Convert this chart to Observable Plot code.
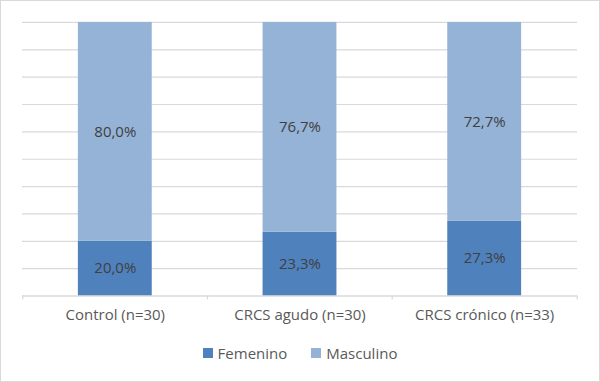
<!DOCTYPE html>
<html>
<head>
<meta charset="utf-8">
<script src="https://cdn.jsdelivr.net/npm/d3@7"></script>
<script src="https://cdn.jsdelivr.net/npm/@observablehq/plot@0.6"></script>
<style>
  html, body { margin: 0; padding: 0; background: #fff; }
  #frame { position: relative; width: 600px; height: 382px; box-sizing: border-box; border: 1px solid #d9d9d9; overflow: hidden; background: #fff; }
  #chart { position: absolute; left: -1px; top: -1px; }
  #legend { position: absolute; left: 0; top: 342px; width: 598px; display: flex; justify-content: center; gap: 24px; font-family: "Open Sans", sans-serif; font-size: 15px; color: #595959; }
  .item { display: flex; align-items: center; gap: 5px; }
  .sw { width: 10px; height: 10px; display: inline-block; }
</style>
</head>
<body>
<div id="frame">
  <div id="chart"></div>
  <div id="legend"></div>
</div>
<script>
const categories = ["Control (n=30)", "CRCS agudo (n=30)", "CRCS crónico (n=33)"];
const series = ["Femenino", "Masculino"];
const femenino = [20.0, 23.3, 27.3];
const masculino = [80.0, 76.7, 72.7];
const colors = ["#4F81BD", "#95B3D7"];
const yTicks = [0, 10, 20, 30, 40, 50, 60, 70, 80, 90, 100];

const rows = [];
categories.forEach((c, i) => {
  rows.push({cat: c, sex: series[0], value: femenino[i]});
  rows.push({cat: c, sex: series[1], value: masculino[i]});
});
const fmt = v => v.toFixed(1).replace(".", ",") + "%";

const W = 600, ML = 22, MR = 22;
const halfStep = (W - ML - MR) / categories.length / 2;

const chart = Plot.plot({
  width: W,
  height: 335,
  marginTop: 22,
  marginBottom: 39,
  marginLeft: ML,
  marginRight: MR,
  style: {fontFamily: "Open Sans, sans-serif", fontSize: "15px", color: "#595959", background: "transparent"},
  x: {type: "band", domain: categories, paddingInner: 0.6, paddingOuter: 0.3, label: null},
  y: {domain: [0, 100], label: null, axis: null},
  color: {domain: series, range: colors},
  marks: [
    Plot.gridY(yTicks, {stroke: "#d9d9d9", strokeOpacity: 1, strokeWidth: 1.2}),
    Plot.barY(rows, {x: "cat", y: "value", fill: "sex", order: series}),
    Plot.text(rows, Plot.stackY({x: "cat", y: "value", z: "sex", order: series, text: d => fmt(d.value), fill: "#404040", fontSize: 15})),
    Plot.ruleY([0], {stroke: "#d9d9d9", strokeWidth: 1.2}),
    Plot.ruleX(categories, {x: d => d, y1: 0, y2: 0, insetBottom: -4, dx: -halfStep, stroke: "#d9d9d9", strokeWidth: 1.2}),
    Plot.ruleX(categories.slice(-1), {x: d => d, y1: 0, y2: 0, insetBottom: -4, dx: halfStep, stroke: "#d9d9d9", strokeWidth: 1.2}),
    Plot.axisX({tickSize: 0, tickPadding: 13, fill: "#595959", fontSize: 15})
  ]
});
document.getElementById("chart").appendChild(chart);

const legend = document.getElementById("legend");
series.forEach((s, i) => {
  const it = document.createElement("div");
  it.className = "item";
  const sw = document.createElement("span");
  sw.className = "sw";
  sw.style.background = colors[i];
  const t = document.createElement("span");
  t.textContent = s;
  it.appendChild(sw); it.appendChild(t);
  legend.appendChild(it);
});
</script>
</body>
</html>
